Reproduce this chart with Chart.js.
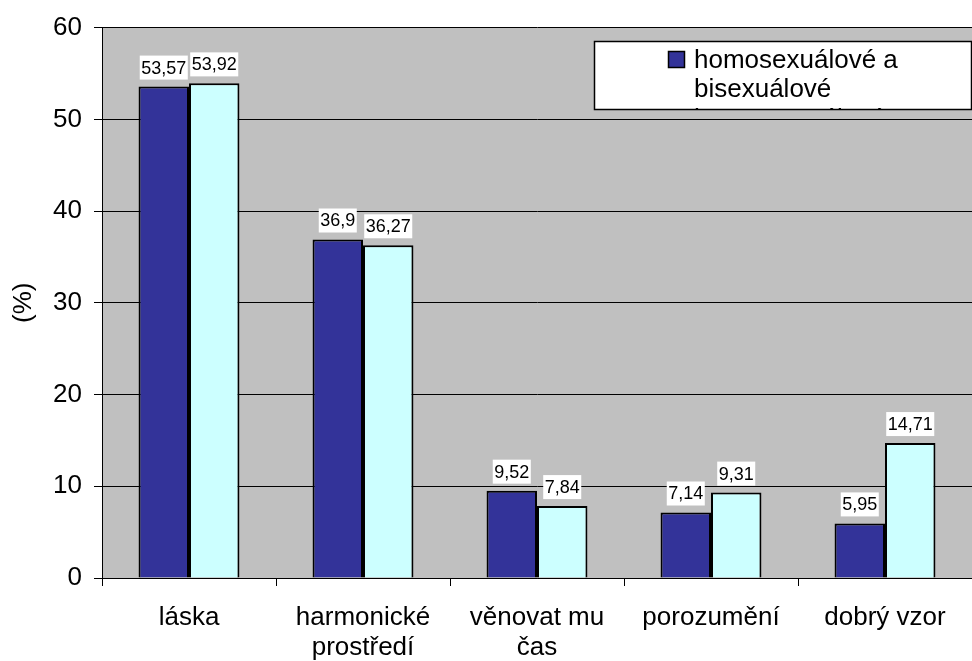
<!DOCTYPE html>
<html>
<head>
<meta charset="utf-8">
<script src="https://cdn.jsdelivr.net/npm/chart.js@4.4.1/dist/chart.umd.min.js"></script>
<style>
  html, body { margin: 0; padding: 0; background: #fff; }
  #wrap { width: 972px; height: 661px; position: relative; }
</style>
</head>
<body>
<div id="wrap"><canvas id="c"></canvas></div>
<script>
// data
const categories = ['láska', ['harmonické', 'prostředí'], ['věnovat mu', 'čas'], 'porozumění', 'dobrý vzor']
const homoBi = [53.57, 36.9, 9.52, 7.14, 5.95]
const hetero = [53.92, 36.27, 7.84, 9.31, 14.71]
const seriesNames = ['homosexuálové a bisexuálové', 'heterosexuálové']
const legendLines = [['homosexuálové a', 'bisexuálové'], ['heterosexuálové']]
const yTicks = [0, 10, 20, 30, 40, 50, 60]

const FONT = '"Liberation Sans", Arial, sans-serif'

// šedé pozadí plochy grafu
const plotBg = {
    id: 'plotBg',
    beforeDraw(chart) {
        const { ctx, chartArea: a } = chart
        ctx.save()
        ctx.fillStyle = '#c0c0c0'
        ctx.fillRect(a.left, a.top, a.right - a.left, a.bottom - a.top)
        ctx.restore()
    }
}

// popisky hodnot nad sloupci (bílý podklad)
const valueLabels = {
    id: 'valueLabels',
    afterDatasetsDraw(chart) {
        const ctx = chart.ctx
        ctx.save()
        ctx.font = '18px ' + FONT
        ctx.textAlign = 'center'
        ctx.textBaseline = 'middle'
        chart.data.datasets.forEach((ds, di) => {
            chart.getDatasetMeta(di).data.forEach((bar, i) => {
                const txt = String(ds.data[i]).replace('.', ',')
                const w = ctx.measureText(txt).width + 3
                const h = 24
                const cy = bar.y - 7 - h / 2
                ctx.fillStyle = '#fff'
                ctx.fillRect(bar.x - w / 2, cy - h / 2, w, h)
                ctx.fillStyle = '#000'
                ctx.fillText(txt, bar.x, cy + 1)
            })
        })
        ctx.restore()
    }
}

// legenda - oříznutá jako v originále
const clippedLegend = {
    id: 'clippedLegend',
    afterDraw(chart) {
        const ctx = chart.ctx
        const box = { x: 594, y: 41, w: 378, h: 69 }
        ctx.save()
        ctx.fillStyle = '#fff'
        ctx.fillRect(box.x, box.y, box.w, box.h)
        ctx.beginPath()
        ctx.rect(box.x, box.y, box.w, box.h)
        ctx.clip()
        ctx.font = '26px ' + FONT
        ctx.textBaseline = 'alphabetic'
        ctx.textAlign = 'left'
        let y = 68
        chart.data.datasets.forEach((ds, di) => {
            ctx.fillStyle = ds.backgroundColor
            ctx.fillRect(668, y - 17, 17, 17)
            ctx.strokeStyle = '#000'
            ctx.lineWidth = 1.5
            ctx.strokeRect(668.5, y - 16.5, 16, 16)
            ctx.fillStyle = '#000'
            legendLines[di].forEach((ln, k) => {
                ctx.fillText(ln, 694, y + k * 29)
            })
            y += legendLines[di].length * 29 + 1
        })
        ctx.restore()
        ctx.save()
        ctx.strokeStyle = '#000'
        ctx.lineWidth = 1.5
        ctx.strokeRect(box.x + 0.5, box.y + 0.5, box.w - 1, box.h - 1)
        ctx.restore()
    }
}

const data = {
    labels: categories,
    datasets: [
        {
            label: seriesNames[0],
            data: homoBi,
            backgroundColor: '#333399',
            borderColor: '#000',
            borderWidth: 2,
            categoryPercentage: 0.58,
            barPercentage: 1
        },
        {
            label: seriesNames[1],
            data: hetero,
            backgroundColor: '#ccffff',
            borderColor: '#000',
            borderWidth: 2,
            categoryPercentage: 0.58,
            barPercentage: 1
        }
    ]
}

const config = {
    type: 'bar',
    data: data,
    options: {
        responsive: true,
        maintainAspectRatio: false,
        animation: false,
        layout: { padding: { top: 25, right: 0, bottom: 0, left: 0 } },
        plugins: {
            legend: { display: false },
            tooltip: { enabled: false }
        },
        scales: {
            x: {
                offset: true,
                grid: {
                    offset: true,
                    drawOnChartArea: false,
                    drawTicks: true,
                    tickLength: 8,
                    color: '#000'
                },
                border: { display: true, color: '#000' },
                ticks: {
                    color: '#000',
                    padding: 17,
                    maxRotation: 0,
                    autoSkip: false,
                    font: { family: FONT, size: 26, lineHeight: 1.15 }
                },
                afterFit(scale) { scale.height = 83 }
            },
            y: {
                min: 0,
                max: 60,
                afterBuildTicks(scale) { scale.ticks = yTicks.map(v => ({ value: v })) },
                grid: { color: '#000', tickLength: 8, lineWidth: 1 },
                border: { display: true, color: '#000' },
                ticks: {
                    color: '#000',
                    padding: 12,
                    font: { family: FONT, size: 26 }
                },
                title: {
                    display: true,
                    text: '(%)',
                    color: '#000',
                    padding: { top: 8, bottom: 0 },
                    font: { family: FONT, size: 26 }
                },
                afterFit(scale) { scale.width = 102 }
            }
        }
    },
    plugins: [plotBg, valueLabels, clippedLegend]
}

new Chart(document.getElementById('c'), config)
</script>
</body>
</html>
